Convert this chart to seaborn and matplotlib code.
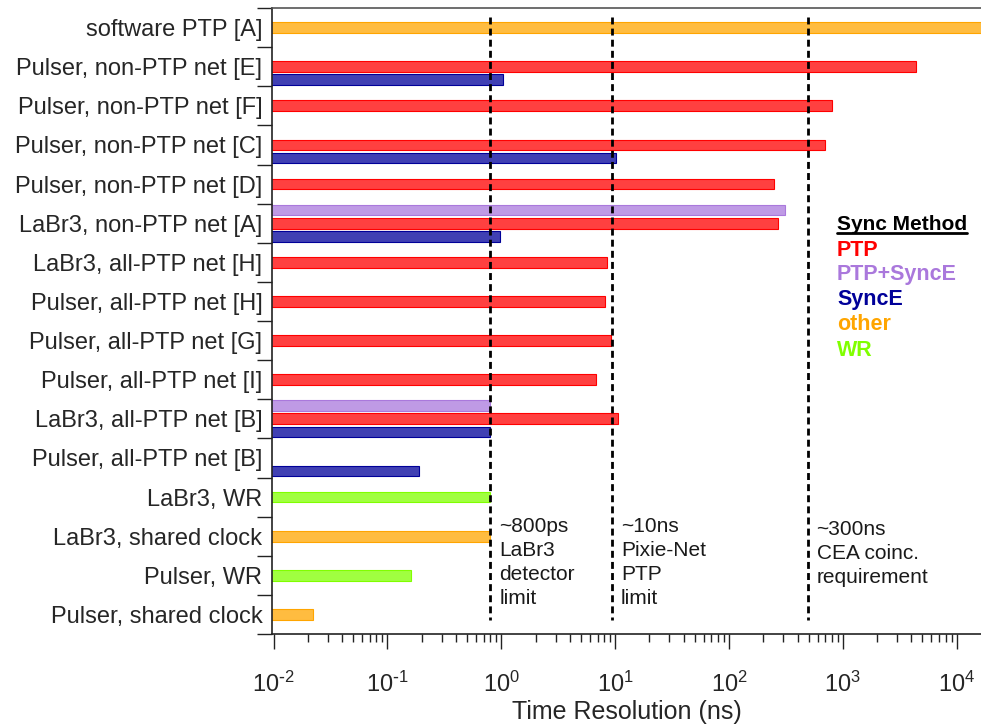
import numpy as np
import pandas as pd
import matplotlib
matplotlib.use("Agg")
import matplotlib.pyplot as plt
import seaborn as sns
from matplotlib.colors import to_rgb
from matplotlib.lines import Line2D
from matplotlib.ticker import LogLocator, NullFormatter, FuncFormatter

# ---- data -------------------------------------------------------------
categories = [
    "software PTP [A]",
    "Pulser, non-PTP net [E]",
    "Pulser, non-PTP net [F]",
    "Pulser, non-PTP net [C]",
    "Pulser, non-PTP net [D]",
    "LaBr3, non-PTP net [A]",
    "LaBr3, all-PTP net [H]",
    "Pulser, all-PTP net [H]",
    "Pulser, all-PTP net [G]",
    "Pulser, all-PTP net [I]",
    "LaBr3, all-PTP net [B]",
    "Pulser, all-PTP net [B]",
    "LaBr3, WR",
    "LaBr3, shared clock",
    "Pulser, WR",
    "Pulser, shared clock",
]
nan = np.nan
ptp       = [nan, 4400, 800, 700, 250, 270, 8.4, 8.1, 9.1, 6.8, 10.6, nan, nan, nan, nan, nan]
ptp_synce = [nan, nan, nan, nan, nan, 310, nan, nan, nan, nan, 0.8, nan, nan, nan, nan, nan]
synce     = [nan, 1.03, nan, 10.1, nan, 0.97, nan, nan, nan, nan, 0.8, 0.19, nan, nan, nan, nan]
other     = [20000, nan, nan, nan, nan, nan, nan, nan, nan, nan, nan, nan, nan, 0.8, nan, 0.022]
wr        = [nan, nan, nan, nan, nan, nan, nan, nan, nan, nan, nan, nan, 0.8, nan, 0.16, nan]

methods = ["PTP", "PTP+SyncE", "SyncE", "other", "WR"]
method_values = [ptp, ptp_synce, synce, other, wr]
method_colors = ["#FF0000", "#AA78DC", "#000099", "#FFA500", "#80FF00"]
# row within a category: PTP+SyncE on top, SyncE below, the rest in the middle
method_slots = ["mid", "top", "bot", "mid", "mid"]
slots = ["top", "mid", "bot"]

limits = [0.8, 9.4, 490]
limit_notes = [
    "~800ps\nLaBr3\ndetector\nlimit",
    "~10ns\nPixie-Net\nPTP\nlimit",
    "~300ns\nCEA coinc.\nrequirement",
]

# ---- long table ------------------------------------------------------
rows = []
for m, vals, slot in zip(methods, method_values, method_slots):
    for cat, v in zip(categories, vals):
        if not np.isnan(v):
            rows.append({"label": cat, "method": m, "slot": slot, "value": v})
df = pd.DataFrame(rows)

# ---- style -------------------------------------------------------------
sns.set_style("ticks")
plt.rcParams["font.family"] = ["Liberation Sans", "DejaVu Sans"]
plt.rcParams["axes.unicode_minus"] = False

fig = plt.figure(figsize=(9.81, 7.25), dpi=100)
ax = fig.add_axes([272 / 981, 1 - 634 / 725, (981 - 272) / 981, (634 - 8) / 725])


def tint(c, a=0.75):
    r, g, b = to_rgb(c)
    return (1 - a + a * r, 1 - a + a * g, 1 - a + a * b)


for m, col in zip(methods, method_colors):
    sub = df[df["method"] == m]
    sns.barplot(
        data=sub, x="value", y="label", hue="slot",
        order=categories, hue_order=slots,
        palette={s: tint(col) for s in slots},
        saturation=1, width=1.0, gap=0.18, dodge=True,
        errorbar=None, log_scale=True, legend=False,
        edgecolor=col, linewidth=0.8, ax=ax,
    )

# ---- axes --------------------------------------------------------------
ax.set_xscale("log")
ax.set_xlim(10 ** -2.014, 10 ** 4.213)
ax.set_ylim(len(categories) - 0.5, -0.5)

ax.set_yticks(np.arange(len(categories) + 1) - 0.5)
ax.set_yticklabels([])
ax.set_yticks(np.arange(len(categories)), labels=categories, minor=True)
ax.tick_params(axis="y", which="major", length=11, width=1, direction="out", color="#222222")
ax.tick_params(axis="y", which="minor", length=0, pad=7, labelsize=17)


def decade_label(v, pos):
    n = int(round(np.log10(v)))
    exp = r"\text{-}" + str(-n) if n < 0 else str(n)
    return r"$\mathdefault{10^{%s}}$" % exp


ax.xaxis.set_major_locator(LogLocator(base=10, numticks=20))
ax.xaxis.set_major_formatter(FuncFormatter(decade_label))
ax.xaxis.set_minor_locator(LogLocator(base=10, subs=np.arange(2, 10), numticks=200))
ax.xaxis.set_minor_formatter(NullFormatter())
ax.tick_params(axis="x", which="major", length=11, width=1, pad=16, labelsize=17, color="#222222")
ax.tick_params(axis="x", which="minor", length=6, width=1, color="#222222")
ax.set_xlabel("Time Resolution (ns)", fontsize=18, labelpad=2.5)
ax.set_ylabel("")

for side in ("left", "bottom"):
    ax.spines[side].set_color("#222222")
    ax.spines[side].set_linewidth(1.2)
ax.spines["top"].set_color("#555555")
ax.spines["top"].set_linewidth(1.2)
ax.spines["right"].set_visible(False)

# ---- reference limits --------------------------------------------------
ax.vlines(limits, -0.27, 15.14, colors="black", linewidth=2,
          linestyles=(0, (2.5, 1.5)), zorder=5)
note_tops = [12.52, 12.52, 12.59]
for x, note, yt in zip(limits, limit_notes, note_tops):
    ax.annotate(note, xy=(x, yt), xytext=(9, 0), textcoords="offset pixels",
                ha="left", va="top", fontsize=15, linespacing=1.32,
                color="#1a1a1a")

# ---- colour key --------------------------------------------------------
W, H = 981, 725
title = fig.text(837 / W, 1 - 225 / H, "Sync Method", fontsize=15,
                 fontweight="bold", ha="left", va="center", color="black")
entry_y = [250, 274.5, 300, 325, 350]
for m, col, yp in zip(methods, method_colors, entry_y):
    fig.text(837 / W, 1 - yp / H, m, fontsize=15.5, fontweight="bold",
             ha="left", va="center", color=col)

fig.canvas.draw()
bb = title.get_window_extent(fig.canvas.get_renderer())
uy = (bb.y0 + 1) / H
fig.add_artist(Line2D([bb.x0 / W, bb.x1 / W], [uy, uy], transform=fig.transFigure,
                      color="black", linewidth=2))

fig.savefig("out.png", dpi=100)
